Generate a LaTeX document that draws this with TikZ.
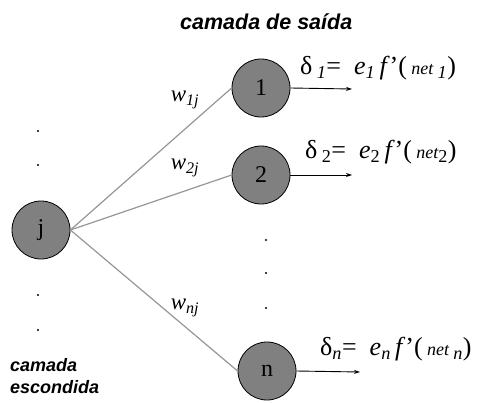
\documentclass[tikz,border=0pt]{standalone}
\usepackage{fontspec}
\setmainfont{Liberation Serif}
\newfontfamily\layerfont{Liberation Sans}
\usetikzlibrary{positioning, arrows.meta}
\definecolor{neurongray}{RGB}{128,128,128}
\definecolor{weightgray}{RGB}{150,150,150}
\newcommand{\netfont}{\fontsize{18}{18}\selectfont\itshape}

\begin{document}
\begin{tikzpicture}[
    x=1pt, y=-1pt,
    neuron/.style={
        circle, draw=black, line width=0.8pt, fill=neurongray,
        minimum size=58pt, inner sep=0pt,
        font=\fontsize{24}{24}\selectfont
    },
    weight/.style={draw=weightgray, line width=1.2pt},
    output/.style={-{Stealth[length=6pt, width=4pt]}, line width=0.9pt, black},
    wlbl/.style={font=\fontsize{23}{23}\selectfont\itshape},
    dlbl/.style={anchor=west, inner sep=0pt, font=\fontsize{26}{26}\selectfont},
    layer/.style={font=\fontsize{18}{22}\selectfont\layerfont\bfseries\itshape,
        align=left, inner sep=0pt},
    gap/.style={circle, fill=black, inner sep=0pt, minimum size=2.4pt}
]
\useasboundingbox (0,0) rectangle (502,403);

% --- nodes ---
\node[neuron] (j)  at (41,230)  {j};
\node[neuron] (n1) at (261,88)  {1};
\node[neuron] (n2) at (261,175) {2};
\node[neuron] (nn) at (267,371) {n};

% --- free ends of the outputs ---
\coordinate (o1) at (352,89);
\coordinate (o2) at (352,175);
\coordinate (on) at (360,372);

% --- weights: j -> output layer ---
\draw[weight] (j.east) -- (n1.west);
\draw[weight] (j.east) -- (n2.west);
\draw[weight] (j.east) -- (nn.west);
\node[wlbl] (w1) at (185,100) {w\textsubscript{1j}};
\node[wlbl] (w2) at (185,168) {w\textsubscript{2j}};
\node[wlbl] (wn) at (185,308) {w\textsubscript{nj}};

% --- outputs and local gradients ---
\draw[output] (n1.east) -- (o1);
\draw[output] (n2.east) -- (o2);
\draw[output] (nn.east) -- (on);
\node[dlbl] (d1) at (300,68)  {δ\,\textsubscript{\itshape 1}= \ \textit{e}\textsubscript{\itshape 1}\,\textit{f}'(\,{\netfont net}\,\textsubscript{\itshape 1})};
\node[dlbl] (d2) at (305,152) {δ\,\textsubscript{2}= \ \textit{e}\textsubscript{2}\,\textit{f}'(\,{\netfont net}\textsubscript{2})};
\node[dlbl] (dn) at (320,349) {δ\textsubscript{\itshape n}= \ \textit{e}\textsubscript{\itshape n}\,\textit{f}'(\,{\netfont net}\,\textsubscript{\itshape n})};

% --- dots for the hidden neurons ---
\foreach \yy in {131,165,295,330}
  \node[gap] at (38,\yy) {};
\foreach \yy in {240,273,308}
  \node[gap] at (266,\yy) {};

% --- layer names ---
\node[layer, font=\fontsize{21.5}{22}\selectfont\layerfont\bfseries\itshape, anchor=west] (out) at (180,22) {camada de saída};
\node[layer, anchor=north west] (hid) at (10,358) {camada\\escondida};

\end{tikzpicture}
\end{document}
